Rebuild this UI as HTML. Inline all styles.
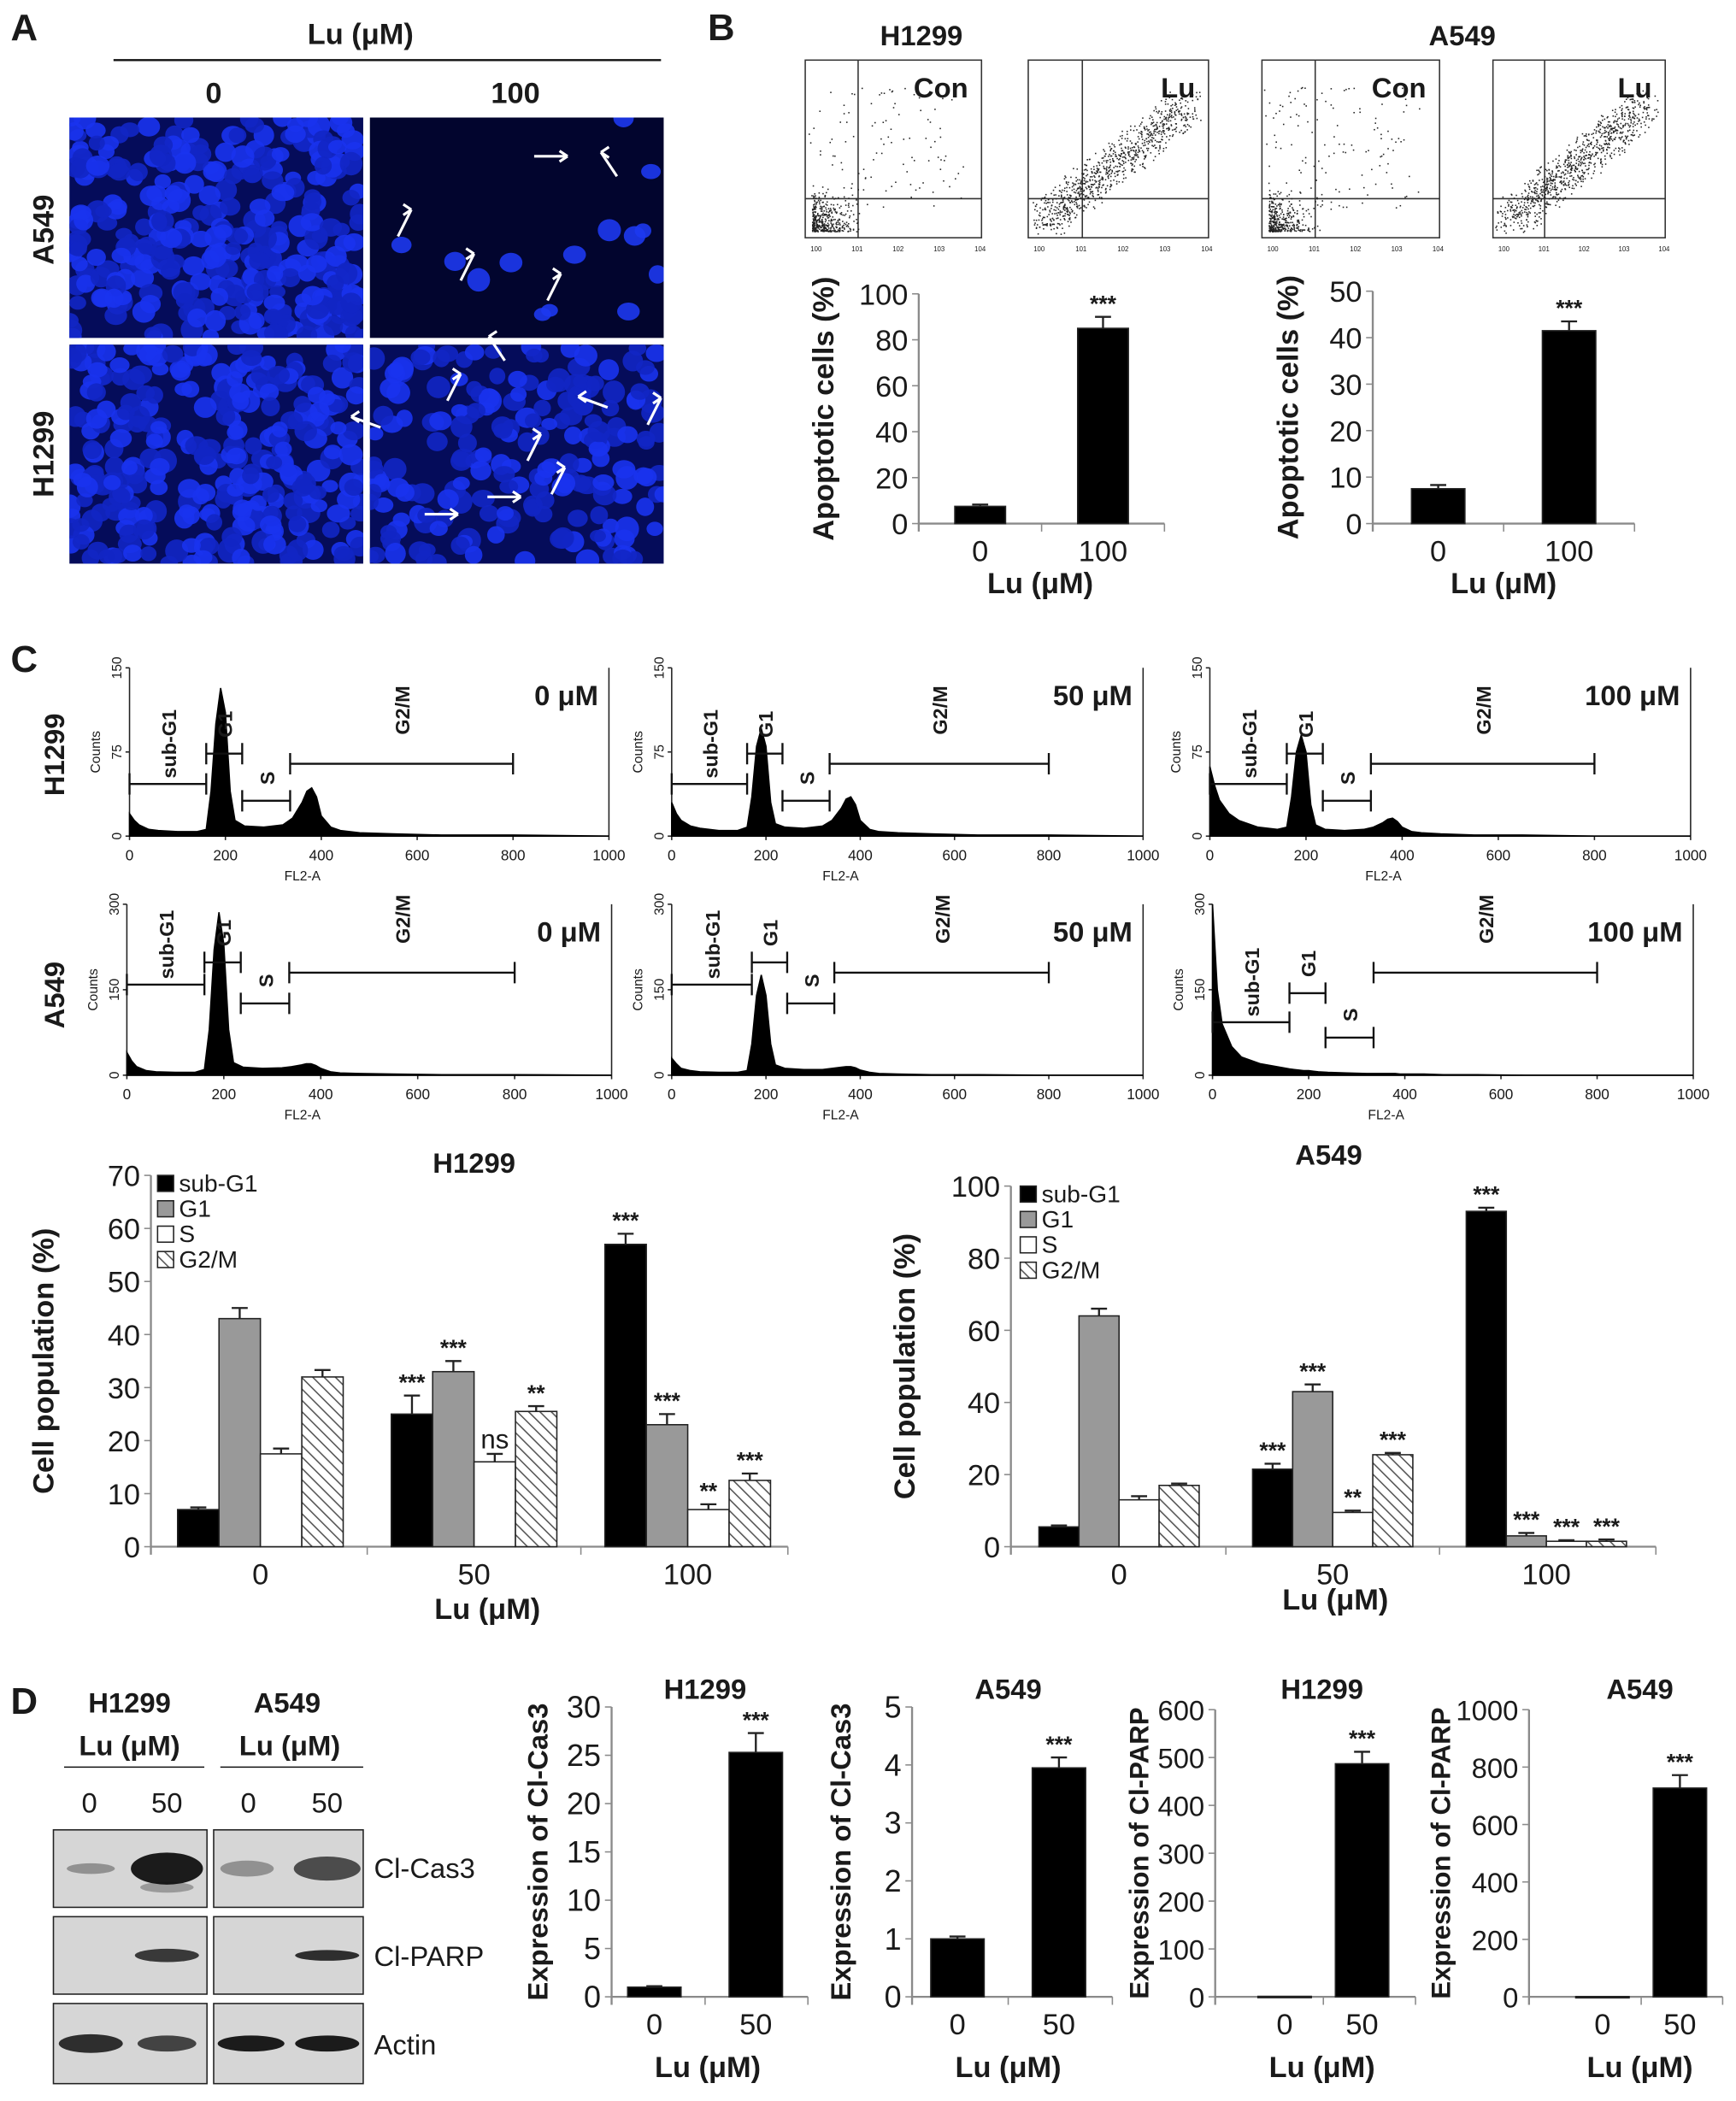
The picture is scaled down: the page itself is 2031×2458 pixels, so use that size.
<!DOCTYPE html>
<html><head><meta charset="utf-8"><style>
html,body{margin:0;padding:0;background:#fff}
svg{display:block}
text{font-family:"Liberation Sans",Arial,sans-serif;fill:#1a1a1a}
</style></head><body>
<svg id="fig" xmlns="http://www.w3.org/2000/svg" width="2031" height="2458" viewBox="0 0 1300 1573" preserveAspectRatio="none">
<g id="A">
<text x="8" y="30" font-size="28" font-weight="bold">A</text>
<text x="270" y="33" font-size="22" font-weight="bold" text-anchor="middle">Lu (μM)</text>
<line x1="85" y1="45" x2="495" y2="45" stroke="#111" stroke-width="1.5"/>
<text x="160" y="77" font-size="22" font-weight="bold" text-anchor="middle">0</text>
<text x="386" y="77" font-size="22" font-weight="bold" text-anchor="middle">100</text>
<text transform="translate(40,172) rotate(-90)" font-size="22" font-weight="bold" text-anchor="middle">A549</text>
<text transform="translate(40,340) rotate(-90)" font-size="22" font-weight="bold" text-anchor="middle">H1299</text>
</g>
<g id="B">
<text x="530" y="30" font-size="28" font-weight="bold">B</text>
<text x="690" y="34" font-size="21" font-weight="bold" text-anchor="middle">H1299</text>
<text x="1095" y="34" font-size="21" font-weight="bold" text-anchor="middle">A549</text>
</g>
<g id="C">
<text x="8" y="503" font-size="28" font-weight="bold">C</text>
<text transform="translate(48,565) rotate(-90)" font-size="21" font-weight="bold" text-anchor="middle">H1299</text>
<text transform="translate(48,745) rotate(-90)" font-size="21" font-weight="bold" text-anchor="middle">A549</text>
</g>
<g id="D">
<text x="8" y="1283" font-size="28" font-weight="bold">D</text>
<text x="97" y="1282" font-size="21" font-weight="bold" text-anchor="middle">H1299</text>
<text x="215" y="1282" font-size="21" font-weight="bold" text-anchor="middle">A549</text>
<text x="97" y="1314" font-size="21" font-weight="bold" text-anchor="middle">Lu (μM)</text>
<text x="217" y="1314" font-size="21" font-weight="bold" text-anchor="middle">Lu (μM)</text>
<line x1="48" y1="1323" x2="153" y2="1323" stroke="#111"/><line x1="165" y1="1323" x2="272" y2="1323" stroke="#111"/>
<text x="67" y="1357" font-size="21" text-anchor="middle">0</text><text x="125" y="1357" font-size="21" text-anchor="middle">50</text>
<text x="186" y="1357" font-size="21" text-anchor="middle">0</text><text x="245" y="1357" font-size="21" text-anchor="middle">50</text>
<text x="280" y="1406" font-size="21">Cl-Cas3</text>
<text x="280" y="1472" font-size="21">Cl-PARP</text>
<text x="280" y="1538" font-size="21">Actin</text>
</g>
</svg>
<script>
const NS="http://www.w3.org/2000/svg";
const svg=document.getElementById('fig');
function mk(tag,attrs,parent,txt){const e=document.createElementNS(NS,tag);for(const k in attrs)e.setAttribute(k,attrs[k]);if(txt!==undefined)e.textContent=txt;(parent||svg).appendChild(e);return e;}
let seed=7;function rnd(){seed=(seed*16807)%2147483647;return seed/2147483647;}
const AX='#8a8a8a';

// ---------- Panel B data ----------
const bCats=["0","100"];
const bH1299Vals=[7.5,85];const bH1299Err=[0.8,5];
const bA549Vals=[7.5,41.5];const bA549Err=[0.8,2];
const bH1299Ticks=[0,20,40,60,80,100];const bA549Ticks=[0,10,20,30,40,50];

// ---------- Panel C bar data ----------
const cCats=["0","50","100"];
const cSeries=["sub-G1","G1","S","G2/M"];
const cH1299Sub=[7,25,57];const cH1299G1=[43,33,23];const cH1299S=[17.5,16,7];const cH1299G2=[32,25.5,12.5];
const cH1299Err=[[0.4,3.5,2],[2,2,2],[1,1.5,1],[1.3,1,1.3]];
const cH1299Stars=[["","***","***"],["","***","***"],["","ns","**"],["","**","***"]];
const cA549Sub=[5.5,21.5,93];const cA549G1=[64,43,3];const cA549S=[13,9.5,1.5];const cA549G2=[17,25.5,1.5];
const cA549Err=[[0.4,1.5,1],[2,2,0.8],[1,0.5,0.3],[0.5,0.5,0.5]];
const cA549Stars=[["","***","***"],["","***","***"],["","**","***"],["","***","***"]];
const cH1299Ticks=[0,10,20,30,40,50,60,70];const cA549Ticks=[0,20,40,60,80,100];

// ---------- Panel D bar data ----------
const dCats=["0","50"];
const dCas3H=[1,25.3];const dCas3HErr=[0.1,2];
const dCas3A=[1,3.95];const dCas3AErr=[0.04,0.18];
const dParpH=[1,487];const dParpHErr=[0,25];
const dParpA=[1,727];const dParpAErr=[0,45];
const dTicks1=[0,5,10,15,20,25,30];const dTicks2=[0,1,2,3,4,5];const dTicks3=[0,100,200,300,400,500,600];const dTicks4=[0,200,400,600,800,1000];

// ---------- Histogram data (channel, counts) ----------
const histCh=[0,10,20,40,60,100,140,160,170,180,190,200,210,220,240,280,320,340,360,370,380,390,400,420,440,480,550,650,800,1000];
const hH0=[20,14,10,6,5,4,4,6,40,100,132,110,40,14,9,8,10,16,30,40,43,35,18,8,5,3,2,1,1,0];
const hH50=[30,20,14,9,7,5,5,8,35,80,96,80,30,11,8,7,9,14,25,33,35,28,14,6,4,3,2,1,1,0];
const hH100=[62,45,32,20,14,8,6,8,35,75,90,75,28,10,6,5,6,8,12,15,16,13,8,4,3,2,1,1,0,0];
const hA0=[40,25,15,8,6,5,5,10,80,220,286,230,80,22,14,12,13,15,18,20,20,17,12,6,4,3,2,1,1,0];
const hA50=[30,20,12,8,6,5,5,8,55,140,176,140,55,18,12,10,10,12,14,15,15,13,9,5,3,2,1,1,0,0];
const hA100=[300,150,90,50,32,20,14,11,10,9,8,8,7,6,5,4,3,3,3,3,3,2,2,2,2,1,1,0,0,0];

// ---------- Panel A micrographs ----------
function micro(x,y,w,h,n,dense,name){
  const g=mk('g',{},svg);
  
  mk('rect',{x:x,y:y,width:w,height:h,fill:dense?'#050c5a':'#02052e'},g);
  const cp=mk('clipPath',{id:'c'+name},svg);mk('rect',{x:x,y:y,width:w,height:h},cp);
  const gg=mk('g',{'clip-path':'url(#c'+name+')'},g);
  for(let i=0;i<n;i++){const cx=x+rnd()*w,cy=y+rnd()*h;const r=6+rnd()*3;
    mk('ellipse',{cx:cx,cy:cy,rx:r,ry:r*(0.75+rnd()*0.3),fill:dense?(rnd()<0.5?'#1a33ee':'#1226c4'):'#1d38f0',opacity:0.9},gg);}
}
micro(52,88,220,165,330,true,'img-a549-0');
micro(277,88,220,165,14,false,'img-a549-100');
micro(52,258,220,164,300,true,'img-h1299-0');
micro(277,258,220,164,200,true,'img-h1299-100');
[[400,117,'l'],[462,132,'ul'],[298,177,'u'],[345,210,'u'],[410,225,'u'],[378,270,'ul'],[335,300,'u'],[285,320,'r'],[455,305,'r'],[485,318,'u'],[395,345,'u'],[365,372,'l'],[318,385,'l'],[413,370,'u']].forEach((a,i)=>{
  const [x,y,d]=a;const v={l:[25,0],r:[-22,-8],u:[10,-20],ul:[-12,-18]}[d];
  const p=mk('path',{d:`M${x} ${y} l${v[0]} ${v[1]} M${x+v[0]} ${y+v[1]} l${v[0]>0?-6:6} ${-4} M${x+v[0]} ${y+v[1]} l${v[0]>0?-6:6} 4`,stroke:'#fff','stroke-width':2,fill:'none'},svg);
  
});
mk('line',{x1:52,y1:255.5,x2:497,y2:255.5,stroke:'#fff','stroke-width':4},svg);

// ---------- Panel B scatter ----------
function scatter(x,y,w,h,label,diag,name){
  const g=mk('g',{},svg);
  mk('rect',{x:x,y:y,width:w,height:h,fill:'#fff',stroke:'#333'},g);
  const qx=x+w*0.3,qy=y+h*0.78;
  mk('line',{x1:qx,y1:y,x2:qx,y2:y+h,stroke:'#333'},g);mk('line',{x1:x,y1:qy,x2:x+w,y2:qy,stroke:'#333'},g);
  for(let i=0;i<(diag?900:500);i++){let px,py;
    if(diag){const t=rnd();px=x+10+t*w*0.8+(rnd()-0.5)*25;py=y+h-12-t*h*0.65+(rnd()-0.5)*25;}
    else if(rnd()<0.75){px=x+5+rnd()*rnd()*40;py=y+h-5-rnd()*rnd()*35;}
    else{px=x+rnd()*w*0.9;py=y+20+rnd()*h*0.7;}
    if(px>x+1&&px<x+w-1&&py>y+1&&py<y+h-1)mk('rect',{x:px,y:py,width:1,height:1,fill:'#222'},g);}
  mk('text',{x:x+w-10,y:y+28,'font-size':21,'font-weight':'bold','text-anchor':'end'},g,label);
  for(let i=0;i<5;i++){mk('text',{x:x+4+i*w/4.3,y:y+h+10,'font-size':5},g,'10'+i);}
}
scatter(603,45,132,133,'Con',false,'flow-h1299-con');
scatter(770,45,135,133,'Lu',true,'flow-h1299-lu');
scatter(945,45,133,133,'Con',false,'flow-a549-con');
scatter(1118,45,129,133,'Lu',true,'flow-a549-lu');

// ---------- Generic bar chart ----------
function barChart(o){
  const g=mk('g',{},svg);
  const maxV=o.ticks[o.ticks.length-1];
  const yS=v=>o.y0-(v/maxV)*(o.y0-o.yTop);
  mk('line',{x1:o.ax,y1:o.yTop,x2:o.ax,y2:o.y0+6,stroke:AX,'stroke-width':1.5},g);
  mk('line',{x1:o.ax,y1:o.y0,x2:o.axEnd,y2:o.y0,stroke:AX,'stroke-width':1.5},g);
  mk('line',{x1:o.axEnd,y1:o.y0,x2:o.axEnd,y2:o.y0+6,stroke:AX},g);
  o.ticks.forEach(t=>{const yy=yS(t);mk('line',{x1:o.ax-5,y1:yy,x2:o.ax,y2:yy,stroke:AX},g);
    const tl=mk('text',{x:o.ax-8,y:yy+8,'font-size':o.fs||22,'text-anchor':'end'},g,t);
    });
  o.cats.forEach((c,i)=>{const cx=o.xc[i];
    const tl=mk('text',{x:cx,y:o.y0+28,'font-size':22,'text-anchor':'middle'},g,c);
    
    if(i<o.cats.length-1){mk('line',{x1:(cx+o.xc[i+1])/2,y1:o.y0,x2:(cx+o.xc[i+1])/2,y2:o.y0+6,stroke:AX},g);}
    o.series.forEach((s,j)=>{
      const v=s[i],bw=o.bw,bx=cx+(j-(o.series.length-1)/2)*bw-bw/2;
      const top=yS(v);const e=o.err[j][i];
      if(e>0){mk('line',{x1:bx+bw/2,y1:top,x2:bx+bw/2,y2:yS(v+e),stroke:'#222','stroke-width':1.5},g);
        mk('line',{x1:bx+bw/2-6,y1:yS(v+e),x2:bx+bw/2+6,y2:yS(v+e),stroke:'#222','stroke-width':1.5},g);}
      const b=mk('rect',{x:bx,y:top,width:bw,height:Math.max(o.y0-top,1),fill:o.fills[j],stroke:'#222','stroke-width':1},g);
      
      const st=o.stars&&o.stars[j][i];
      if(st){const sl=mk('text',{x:bx+bw/2,y:yS(v+e)-4,'font-size':st==='ns'?20:17,'font-weight':st==='ns'?'normal':'bold','text-anchor':'middle'},g,st);
        }
    });});
  const yt=mk('text',{transform:`translate(${o.ytX},${(o.yTop+o.y0)/2}) rotate(-90)`,'font-size':o.ytFs||22,'font-weight':'bold','text-anchor':'middle'},g,o.ytitle);
  
  const xt=mk('text',{x:o.xtX,y:o.xtY,'font-size':22,'font-weight':'bold','text-anchor':'middle'},g,'Lu (μM)');
  
  if(o.title){const tt=mk('text',{x:o.title[1],y:o.title[2],'font-size':21,'font-weight':'bold','text-anchor':'middle'},g,o.title[0]);
    }
  return g;
}
const defs=mk('defs',{},svg);
const pat=mk('pattern',{id:'hatch',width:6,height:6,patternUnits:'userSpaceOnUse',patternTransform:'rotate(-45)'},defs);
mk('rect',{width:6,height:6,fill:'#fff'},pat);mk('line',{x1:0,y1:0,x2:0,y2:6,stroke:'#555','stroke-width':2},pat);

barChart({name:'b-h1299-bar-chart',ax:688,axEnd:872,yTop:220,y0:392,ticks:bH1299Ticks,cats:bCats,xc:[734,826],bw:38,
  series:[bH1299Vals],err:[bH1299Err],stars:[["","***"]],fills:['#000'],names:['apoptotic'],ytitle:'Apoptotic cells (%)',ytX:624,xtX:779,xtY:444});
barChart({name:'b-a549-bar-chart',ax:1028,axEnd:1224,yTop:218,y0:392,ticks:bA549Ticks,cats:bCats,xc:[1077,1175],bw:40,
  series:[bA549Vals],err:[bA549Err],stars:[["","***"]],fills:['#000'],names:['apoptotic'],ytitle:'Apoptotic cells (%)',ytX:972,xtX:1126,xtY:444});

const cFills=['#000','#999','#fff','url(#hatch)'];
barChart({name:'c-h1299-bar-chart',ax:113,axEnd:590,yTop:880,y0:1158,ticks:cH1299Ticks,cats:cCats,xc:[195,355,515],bw:31,
  series:[cH1299Sub,cH1299G1,cH1299S,cH1299G2],err:cH1299Err,stars:cH1299Stars,fills:cFills,names:['subg1','g1','s','g2m'],
  ytitle:'Cell population (%)',ytX:40,xtX:365,xtY:1212,title:['H1299',355,878]});
barChart({name:'c-a549-bar-chart',ax:757,axEnd:1240,yTop:888,y0:1158,ticks:cA549Ticks,cats:cCats,xc:[838,998,1158],bw:30,
  series:[cA549Sub,cA549G1,cA549S,cA549G2],err:cA549Err,stars:cA549Stars,fills:cFills,names:['subg1','g1','s','g2m'],
  ytitle:'Cell population (%)',ytX:685,xtX:1000,xtY:1205,title:['A549',995,872]});
function legend(x,y,fs){cSeries.forEach((s,i)=>{const r=mk('rect',{x:x,y:y+i*19,width:12,height:12,fill:cFills[i],stroke:'#222'},svg);
  
  const t=mk('text',{x:x+16,y:y+i*19+12,'font-size':fs},svg,s);});}
legend(118,880,18);legend(764,888,18);

const dFill=['#000'];
barChart({name:'d-cas3-h1299',ax:458,axEnd:605,yTop:1278,y0:1495,ticks:dTicks1,cats:dCats,xc:[490,566],bw:40,fs:23,series:[dCas3H],err:[dCas3HErr],stars:[["","***"]],fills:dFill,names:['cas3'],ytitle:'Expression of Cl-Cas3',ytX:410,ytFs:21,xtX:530,xtY:1555,title:['H1299',528,1272]});
barChart({name:'d-cas3-a549',ax:683,axEnd:833,yTop:1278,y0:1495,ticks:dTicks2,cats:dCats,xc:[717,793],bw:40,fs:23,series:[dCas3A],err:[dCas3AErr],stars:[["","***"]],fills:dFill,names:['cas3'],ytitle:'Expression of Cl-Cas3',ytX:637,ytFs:21,xtX:755,xtY:1555,title:['A549',755,1272]});
barChart({name:'d-parp-h1299',ax:910,axEnd:1060,yTop:1280,y0:1495,ticks:dTicks3,cats:dCats,xc:[962,1020],bw:40,fs:21,series:[dParpH],err:[dParpHErr],stars:[["","***"]],fills:dFill,names:['parp'],ytitle:'Expression of Cl-PARP',ytX:860,ytFs:20,xtX:990,xtY:1555,title:['H1299',990,1272]});
barChart({name:'d-parp-a549',ax:1145,axEnd:1290,yTop:1280,y0:1495,ticks:dTicks4,cats:dCats,xc:[1200,1258],bw:40,fs:21,series:[dParpA],err:[dParpAErr],stars:[["","***"]],fills:dFill,names:['parp'],ytitle:'Expression of Cl-PARP',ytX:1086,ytFs:20,xtX:1228,xtY:1555,title:['A549',1228,1272]});

// ---------- Histograms ----------
function hist(o){
  const g=mk('g',{},svg);
  const xS=c=>o.x0+(c/1000)*(o.x1-o.x0);const yS=v=>o.y0-(v/o.max)*(o.y0-o.yTop);
  mk('line',{x1:o.x0,y1:o.yTop,x2:o.x0,y2:o.y0,stroke:'#222'},g);mk('line',{x1:o.x0,y1:o.y0,x2:o.x1,y2:o.y0,stroke:'#222'},g);
  mk('line',{x1:o.x1,y1:o.yTop,x2:o.x1,y2:o.y0,stroke:'#222'},g);
  [0,o.max/2,o.max].forEach(t=>{mk('line',{x1:o.x0-3,y1:yS(t),x2:o.x0,y2:yS(t),stroke:'#222'},g);
    mk('text',{transform:`translate(${o.x0-6},${yS(t)}) rotate(-90)`,'font-size':10,'text-anchor':'middle'},g,t);});
  [0,200,400,600,800,1000].forEach(t=>{mk('line',{x1:xS(t),y1:o.y0,x2:xS(t),y2:o.y0+3,stroke:'#222'},g);
    mk('text',{x:xS(t),y:o.y0+18,'font-size':11,'text-anchor':'middle'},g,t);});
  mk('text',{x:(o.x0+o.x1)/2-50,y:o.y0+33,'font-size':10,'text-anchor':'middle'},g,'FL2-A');
  mk('text',{transform:`translate(${o.x0-22},${(o.yTop+o.y0)/2}) rotate(-90)`,'font-size':10,'text-anchor':'middle'},g,'Counts');
  let d=`M${xS(histCh[0])} ${o.y0}`;histCh.forEach((c,i)=>{d+=` L${xS(c)} ${yS(o.data[i])}`;});d+=` L${xS(1000)} ${o.y0} Z`;
  const p=mk('path',{d:d,fill:'#000',stroke:'#000','stroke-width':1},g);
  mk('text',{x:o.x1-8,y:o.yTop+28,'font-size':21,'font-weight':'bold','text-anchor':'end'},g,o.label);
  const gates=[[0,160,'sub-G1'],[160,235,'G1'],[235,335,'S'],[335,800,'G2/M']];
  gates.forEach((gt,i)=>{const a=(o.shift&&i>0?o.shift:0)+gt[0],b=(o.shift&&i<3?o.shift:0)+gt[1];const yy=o.y0-o.lv[i]*(o.y0-o.yTop);
    mk('path',{d:`M${xS(a)} ${yy-8} V${yy+8} M${xS(a)} ${yy} H${xS(b)} M${xS(b)} ${yy-8} V${yy+8}`,stroke:'#111','stroke-width':1.5,fill:'none'},g);
    const cx=(xS(a)+xS(b))/2;
    const t=mk('text',{transform:`translate(${cx+6},${yy-(i==3?40:(i==0?30:12))}) rotate(-90)`,'font-size':15,'font-weight':'bold','text-anchor':i==0||i==3?'middle':'start'},g,gt[2]);
    });
}
hist({name:'hist-h1299-0',x0:97,x1:456,yTop:500,y0:626,max:150,data:hH0,label:'0 μM',lv:[0.31,0.49,0.21,0.43]});
hist({name:'hist-h1299-50',x0:503,x1:856,yTop:500,y0:626,max:150,data:hH50,label:'50 μM',lv:[0.31,0.49,0.21,0.43]});
hist({name:'hist-h1299-100',x0:906,x1:1266,yTop:500,y0:626,max:150,data:hH100,label:'100 μM',lv:[0.31,0.49,0.21,0.43]});
hist({name:'hist-a549-0',x0:95,x1:458,yTop:677,y0:805,max:300,data:hA0,label:'0 μM',lv:[0.53,0.66,0.42,0.6]});
hist({name:'hist-a549-50',x0:503,x1:856,yTop:677,y0:805,max:300,data:hA50,label:'50 μM',lv:[0.53,0.66,0.42,0.6],shift:10});
hist({name:'hist-a549-100',x0:908,x1:1268,yTop:677,y0:805,max:300,data:hA100,label:'100 μM',lv:[0.31,0.48,0.22,0.6]});

// ---------- Western blots ----------
function blot(x,y,w,h,bands,name){
  const g=mk('g',{},svg);
  mk('rect',{x:x,y:y,width:w,height:h,fill:'#d6d6d6',stroke:'#222'},g);
  bands.forEach(b=>{mk('ellipse',{cx:x+b[0],cy:y+h/2+(b[4]||0),rx:b[1],ry:b[2],fill:'#111',opacity:b[3]},g);});
}
blot(40,1370,115,58,[[28,18,4,0.35],[85,27,12,0.95],[85,20,4,0.3,14]],'blot-h1299-cas3');
blot(160,1370,112,58,[[25,20,6,0.35],[85,25,9,0.7]],'blot-a549-cas3');
blot(40,1435,115,58,[[85,24,5,0.8]],'blot-h1299-parp');
blot(160,1435,112,58,[[85,24,4,0.85]],'blot-a549-parp');
blot(40,1500,115,60,[[28,24,7,0.85],[85,22,6,0.75]],'blot-h1299-actin');
blot(160,1500,112,60,[[28,25,6,0.95],[85,24,6,0.95]],'blot-a549-actin');
</script>
</body></html>
